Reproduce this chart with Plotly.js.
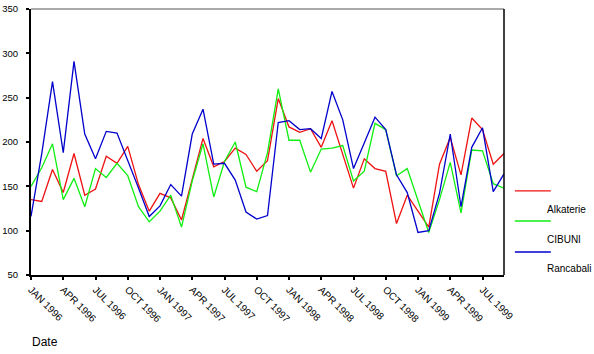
<!DOCTYPE html>
<html>
<head>
<meta charset="utf-8">
<script src="https://cdn.plot.ly/plotly-3.0.1.min.js"></script>
<style>html,body{margin:0;padding:0;background:#fff;}#chart{width:594px;height:354px;}</style>
</head>
<body>
<div id="chart"></div>
<script>
var months = [
  "JAN 1996","FEB 1996","MAR 1996","APR 1996","MAY 1996","JUN 1996","JUL 1996","AUG 1996","SEP 1996","OCT 1996","NOV 1996","DEC 1996",
  "JAN 1997","FEB 1997","MAR 1997","APR 1997","MAY 1997","JUN 1997","JUL 1997","AUG 1997","SEP 1997","OCT 1997","NOV 1997","DEC 1997",
  "JAN 1998","FEB 1998","MAR 1998","APR 1998","MAY 1998","JUN 1998","JUL 1998","AUG 1998","SEP 1998","OCT 1998","NOV 1998","DEC 1998",
  "JAN 1999","FEB 1999","MAR 1999","APR 1999","MAY 1999","JUN 1999","JUL 1999","AUG 1999","SEP 1999"
];
var tickLabels = ["JAN 1996","APR 1996","JUL 1996","OCT 1996","JAN 1997","APR 1997","JUL 1997","OCT 1997",
  "JAN 1998","APR 1998","JUL 1998","OCT 1998","JAN 1999","APR 1999","JUL 1999"];
var yTicks = [50,100,150,200,250,300,350];

var seriesNames = ["Alkaterie","CIBUNI","Rancabali"];
var seriesColors = ["#ee1111","#11ee11","#0000cc"];

var alkaterie = [135,133,169,143,187,140,147,184,176,195,152,122,
  142,137,112,159,204,172,178,193,186,167,179,249,
  217,211,215,194,224,186,148,181,170,167,108,140,
  122,104,175,205,163,227,214,175,187];
var cibuni = [150,171,198,135,159,127,170,160,176,162,127,110,
  122,140,104,156,198,138,178,200,149,144,188,260,
  202,202,166,192,193,196,156,167,221,214,162,170,
  134,98,135,177,120,191,190,153,148];
var rancabali = [116,187,268,188,291,209,181,212,210,180,148,116,
  128,152,139,209,237,175,176,157,121,113,117,222,
  224,214,215,204,257,225,170,199,228,214,163,143,
  98,100,142,209,127,194,216,144,164];

var values = [alkaterie, cibuni, rancabali];
var font = "Arial, 'Liberation Sans', sans-serif";

var traces = values.map(function(v, i){
  return {x: months, y: v, type: "scatter", mode: "lines", name: seriesNames[i],
    line: {color: seriesColors[i], width: 1.3}, showlegend: false};
});

// legend drawn SPSS-style: sample line above, label below
var legLineY = [0.316, 0.203, 0.0865];
var legTextY = [0.248, 0.135, 0.026];
var shapes = [
  {type:"line", xref:"paper", yref:"paper", x0:0, x1:1, y0:1, y1:1, line:{color:"#555", width:1}},
  {type:"line", xref:"paper", yref:"paper", x0:1, x1:1, y0:0, y1:1, line:{color:"#000", width:1.5}}
];
var annotations = [
  {xref:"paper", yref:"paper", x:-0.003, y:-0.252, xanchor:"left", yanchor:"middle", showarrow:false,
   text:"Date", font:{family:font, size:12, color:"#000"}}
];
seriesNames.forEach(function(n, i){
  shapes.push({type:"line", xref:"paper", yref:"paper", x0:1.023, x1:1.099, y0:legLineY[i], y1:legLineY[i],
    line:{color:seriesColors[i], width:1.3}});
  annotations.push({xref:"paper", yref:"paper", x:1.087, y:legTextY[i], xanchor:"left", yanchor:"middle",
    showarrow:false, text:n, font:{family:font, size:10, color:"#000"}});
});

var layout = {
  width: 594, height: 354,
  margin: {l:31, r:90, t:9, b:79, pad:0},
  paper_bgcolor:"#fff", plot_bgcolor:"#fff",
  font: {family: font, color:"#000"},
  showlegend: false,
  xaxis: {type:"category", range:[0,44], tickvals: tickLabels, ticktext: tickLabels,
    tickangle:45, ticks:"outside", ticklen:3, tickwidth:2, tickcolor:"#000",
    showline:true, linewidth:2, linecolor:"#000", showgrid:false, zeroline:false,
    tickfont:{family:font, size:10, color:"#000"}},
  yaxis: {range:[50,350], tickvals:yTicks, ticks:"outside", ticklen:3, tickwidth:2, tickcolor:"#000",
    showline:true, linewidth:2, linecolor:"#000", showgrid:false, zeroline:false,
    ticklabelstandoff:6,
    tickfont:{family:font, size:9.5, color:"#000"}},
  shapes: shapes,
  annotations: annotations
};

Plotly.newPlot("chart", traces, layout, {displayModeBar:false, staticPlot:true});
</script>
</body>
</html>
